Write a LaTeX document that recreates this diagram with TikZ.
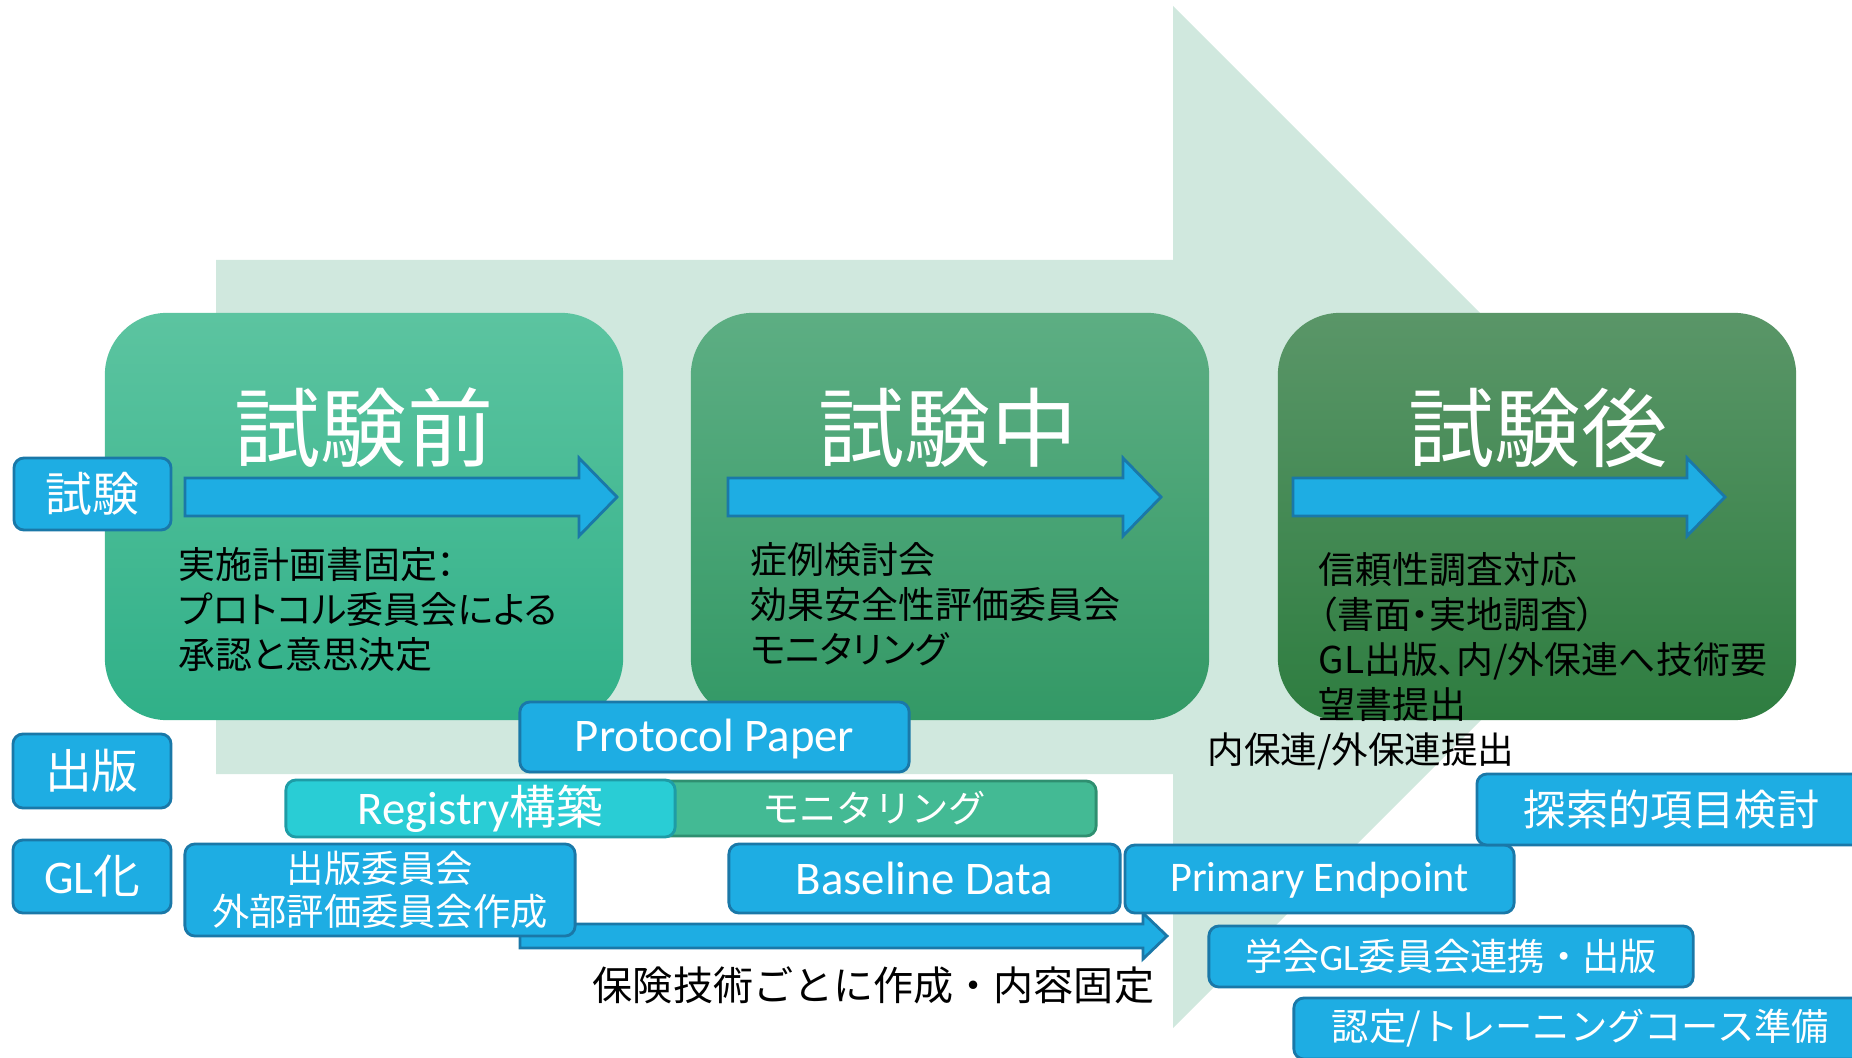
\documentclass[tikz,border=0pt]{standalone}
\usepackage{fontspec}
\setmainfont{Noto Sans CJK JP}
\newfontfamily\lat{Carlito}
\newfontfamily\jpprop{Noto Sans CJK JP}[RawFeature=+palt]
\usetikzlibrary{positioning}
\definecolor{mint}{HTML}{D0E8DE}
\definecolor{tagblue}{HTML}{1EADE3}
\definecolor{tagline}{HTML}{1A78A8}
\definecolor{regcyan}{HTML}{29CDD5}
\definecolor{regline}{HTML}{1E9CA6}
\definecolor{mongreen}{HTML}{43BA94}
\definecolor{monline}{HTML}{2F8F70}
\definecolor{preTop}{HTML}{5CC4A0}
\definecolor{preBot}{HTML}{30B088}
\definecolor{midTop}{HTML}{5DAE83}
\definecolor{midBot}{HTML}{339966}
\definecolor{postTop}{HTML}{5A9668}
\definecolor{postBot}{HTML}{2E7D40}
\newcommand{\fsTitle}{\fontsize{24.5}{29}\selectfont}
\newcommand{\fsLabel}{\fontsize{13.3}{16}\selectfont}
\newcommand{\fsMid}{\fontsize{12}{14.4}\selectfont}
\newcommand{\fsNote}{\fontsize{11.4}{13.7}\selectfont}
\newcommand{\fsSmall}{\fontsize{10.6}{12.2}\selectfont}
\newcommand{\fsBody}{\fontsize{10.5}{12.8}\selectfont}
% block arrow: x0, head base, tip, centre y, shaft half, head half
\newcommand{\flowarrow}[6]{%
  \draw[flow] (#1,#4-#5) -- (#2,#4-#5) -- (#2,#4-#6) -- (#3,#4)
    -- (#2,#4+#6) -- (#2,#4+#5) -- (#1,#4+#5) -- cycle;}
\tikzset{
  tag/.style={draw=tagline, fill=tagblue, line width=0.8pt, rounded corners=0.1cm,
    text=white, inner sep=0pt},
  phase/.style={rounded corners=0.62cm, inner sep=0pt, minimum width=5.18cm,
    minimum height=4.07cm},
  title/.style={text=white, font=\fsTitle, inner sep=0pt},
  body/.style={align=left, anchor=north west, inner sep=0pt, font=\fsBody\jpprop},
  flow/.style={draw=tagline, fill=tagblue, line width=0.8pt},
}
\begin{document}
\begin{tikzpicture}[x=0.01cm, y=-0.01cm]
  \useasboundingbox (0,0) rectangle (1852,1058);

  % ---------- background arrow ----------
  \fill[mint] (216,260) -- (1173,260) -- (1173,6) -- (1684,517)
    -- (1173,1028) -- (1173,774) -- (216,774) -- cycle;

  % ---------- phases ----------
  \node[phase, top color=preTop, bottom color=preBot] (pre) at (364,516.5) {};
  \node[phase, top color=midTop, bottom color=midBot] (mid) at (950,516.5) {};
  \node[phase, top color=postTop, bottom color=postBot] (post) at (1537,516.5) {};

  \node[title] (preT) at (364,428) {試験前};
  \node[title] (midT) at (948,428) {試験中};
  \node[title] (postT) at (1538,428) {試験後};

  \flowarrow{185}{579}{617}{497}{19}{39}
  \flowarrow{728}{1123}{1161}{497}{19}{39}
  \flowarrow{1293}{1687}{1725}{497}{19}{39}

  \node[body] (preB) at (178,547) {実施計画書固定：\\プロトコル委員会による\\承認と意思決定};
  \node[body] (midB) at (750,542) {症例検討会\\効果安全性評価委員会\\モニタリング};
  \node[body] (postB) at (1318,552) {信頼性調査対応\\（書面・実地調査）\\GL出版、内/外保連へ技術要\\望書提出};

  % ---------- row labels ----------
  \node[tag, minimum width=1.57cm, minimum height=0.72cm, font=\fsLabel] (tagTrial) at (92.5,494) {試験};
  \node[tag, minimum width=1.58cm, minimum height=0.74cm, font=\fsLabel] (tagPub) at (92,771) {出版};
  \node[tag, minimum width=1.58cm, minimum height=0.73cm, font=\fsLabel] (tagGL) at (92,876.5) {{\lat GL}化};

  % ---------- tasks ----------
  \flowarrow{520}{1143}{1167}{936}{12}{23}
  \node[tag, minimum width=3.9cm, minimum height=0.92cm, align=center, font=\fsSmall] (glComm) at (380,890) {出版委員会\\外部評価委員会作成};
  \node[tag, draw=monline, fill=mongreen, minimum width=4.44cm, minimum height=0.55cm, font=\fsSmall] (monitor) at (874,808.5) {モニタリング};
  \node[tag, draw=regline, fill=regcyan, minimum width=3.89cm, minimum height=0.57cm, font=\fsLabel] (registry) at (480.5,808.5) {{\lat Registry}構築};
  \node[tag, minimum width=3.89cm, minimum height=0.70cm, font=\fsLabel\lat, text depth=0.1em] (protocol) at (714.5,737) {Protocol Paper};
  \node[tag, minimum width=3.91cm, minimum height=0.69cm, font=\fsLabel\lat] (baseline) at (924.5,878.5) {Baseline Data};
  \node[tag, minimum width=3.89cm, minimum height=0.68cm, font=\fsMid\lat, text depth=0.1em] (primary) at (1319.5,879) {Primary Endpoint};
  \node[tag, minimum width=3.89cm, minimum height=0.71cm, font=\fsMid] (explore) at (1671.5,809.5) {探索的項目検討};
  \node[tag, minimum width=4.84cm, minimum height=0.61cm, font=\fsSmall] (society) at (1451,956.5) {学会{\lat GL}委員会連携・出版};
  \node[tag, minimum width=5.73cm, minimum height=0.61cm, font=\fsSmall] (course) at (1580.5,1028.5) {認定/トレーニングコース準備};

  % ---------- notes ----------
  \node[font=\fontsize{10.4}{12.5}\selectfont, inner sep=0pt] (submit) at (1361,751) {内保連/外保連提出};
  \node[font=\fsNote, inner sep=0pt] (fixText) at (873.5,985) {保険技術ごとに作成・内容固定};
\end{tikzpicture}
\end{document}
